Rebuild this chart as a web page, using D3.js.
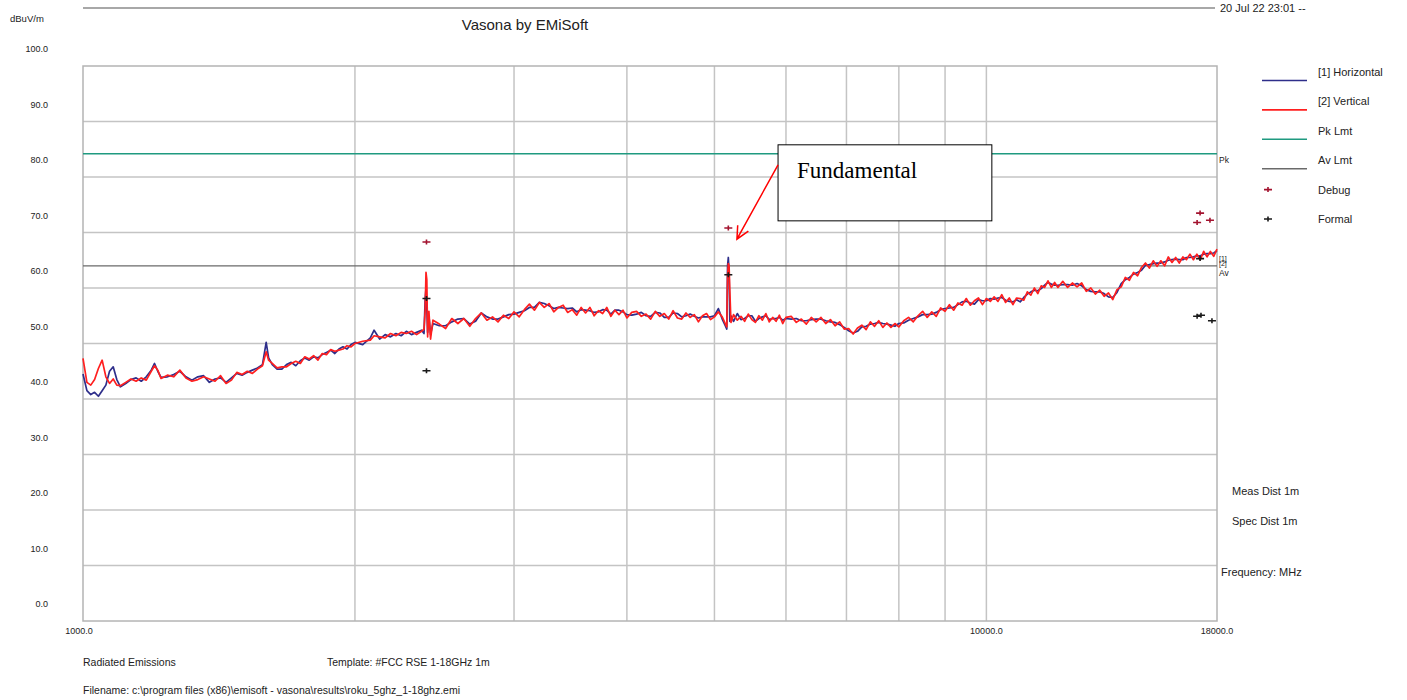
<!DOCTYPE html>
<html>
<head>
<meta charset="utf-8">
<script src="https://cdnjs.cloudflare.com/ajax/libs/d3/7.8.5/d3.min.js"></script>
<style>
  body { margin: 0; background: #fff; }
  svg text { font-family: "Liberation Sans", Arial, sans-serif; fill: #222; }
</style>
</head>
<body>
<div id="chart"></div>
<script>
// frequencies (MHz) shared by both traces
const freqs = [
  1000, 1010, 1020, 1030, 1040, 1050, 1060, 1070, 1080, 1090,
  1100, 1115, 1130, 1145, 1160, 1175, 1190, 1200, 1210, 1220,
  1240, 1260, 1280, 1300, 1320, 1340, 1360, 1380, 1400, 1420,
  1440, 1460, 1480, 1500, 1520, 1540, 1560, 1580, 1595, 1605,
  1620, 1640, 1660, 1680, 1700, 1720, 1740, 1760, 1780, 1800,
  1820, 1840, 1860, 1880, 1900, 1920, 1940, 1960, 1980, 2000,
  2040, 2080, 2100, 2130, 2160, 2190, 2220, 2250, 2280, 2310,
  2340, 2370, 2385, 2392, 2397, 2402, 2407, 2415, 2425, 2440,
  2480, 2520, 2560, 2600, 2640, 2680, 2720, 2760, 2800, 2840,
  2880, 2920, 2960, 3000, 3040, 3080, 3120, 3160, 3200, 3240,
  3280, 3320, 3360, 3400, 3440, 3480, 3520, 3560, 3600, 3640,
  3680, 3720, 3760, 3800, 3840, 3880, 3920, 3960, 4000, 4050,
  4100, 4150, 4200, 4250, 4300, 4350, 4400, 4450, 4500, 4550,
  4600, 4650, 4700, 4750, 4800, 4850, 4900, 4950, 5000, 5050,
  5100, 5140, 5160, 5170, 5180, 5190, 5200, 5215, 5250, 5300,
  5350, 5400, 5450, 5500, 5550, 5600, 5650, 5700, 5750, 5800,
  5850, 5900, 5950, 6000, 6080, 6160, 6240, 6320, 6400, 6480,
  6560, 6640, 6720, 6800, 6880, 6960, 7040, 7120, 7200, 7280,
  7360, 7440, 7520, 7600, 7680, 7760, 7840, 7920, 8000, 8100,
  8200, 8300, 8400, 8500, 8600, 8700, 8800, 8900, 9000, 9100,
  9200, 9300, 9400, 9500, 9600, 9700, 9800, 9900, 10000, 10100,
  10200, 10300, 10400, 10500, 10600, 10700, 10800, 10900, 11000, 11100,
  11200, 11300, 11400, 11500, 11600, 11700, 11800, 11900, 12000, 12150,
  12300, 12450, 12600, 12750, 12900, 13050, 13200, 13350, 13500, 13650,
  13800, 13950, 14100, 14250, 14400, 14550, 14700, 14850, 15000, 15150,
  15300, 15450, 15600, 15750, 15900, 16050, 16200, 16350, 16500, 16650,
  16800, 16950, 17100, 17250, 17400, 17550, 17700, 17850, 18000,
];

// [1] Horizontal, dBuV/m
const horizontal = [
  44.5, 41.5, 40.8, 41.2, 40.5, 41.5, 42.5, 45.0, 45.8, 43.5,
  42.2, 42.8, 43.5, 43.8, 43.2, 44.0, 45.2, 46.4, 45.0, 43.9,
  44.0, 44.4, 45.0, 44.0, 43.4, 44.0, 44.2, 43.0, 43.6, 43.8,
  43.0, 43.8, 44.6, 44.3, 44.8, 45.2, 45.6, 46.2, 50.2, 47.4,
  46.2, 45.4, 45.4, 46.2, 46.6, 46.0, 46.9, 47.4, 47.0, 47.6,
  47.4, 48.0, 48.4, 48.8, 48.2, 49.0, 49.4, 49.0, 49.8, 50.2,
  49.8, 51.0, 52.4, 50.8, 51.6, 51.2, 51.8, 51.4, 52.2, 51.6,
  52.0, 52.4, 51.8, 58.0, 59.9, 56.5, 52.0, 55.0, 51.6, 53.6,
  53.2, 53.2, 53.9, 54.4, 54.5, 53.5, 54.0, 55.5, 54.8, 54.4,
  54.4, 54.8, 55.2, 55.3, 55.6, 55.9, 56.5, 56.5, 57.4, 57.2,
  56.8, 56.3, 56.5, 56.4, 56.3, 56.4, 55.7, 56.1, 56.0, 55.9,
  55.6, 55.7, 56.1, 56.0, 55.3, 56.0, 56.0, 55.7, 55.2, 55.1,
  55.3, 55.6, 55.0, 54.9, 55.6, 55.5, 54.7, 54.7, 55.5, 55.4,
  54.8, 55.0, 55.3, 54.9, 54.6, 54.8, 54.8, 54.8, 55.0, 56.3,
  54.4, 53.2, 52.6, 64.0, 65.5, 63.0, 54.0, 55.0, 54.0, 55.4,
  54.3, 54.5, 55.0, 55.0, 54.0, 54.5, 54.8, 55.0, 54.3, 54.5,
  54.5, 54.7, 54.2, 54.5, 54.4, 54.5, 54.1, 54.1, 54.3, 54.4,
  54.4, 54.1, 53.9, 53.8, 53.4, 52.9, 52.3, 51.9, 52.2, 53.0,
  53.1, 53.5, 53.6, 53.8, 53.6, 53.5, 53.3, 53.1, 53.6, 53.7,
  54.2, 54.5, 54.8, 55.2, 55.2, 55.3, 55.6, 56.1, 56.3, 56.4,
  56.5, 57.0, 57.5, 57.6, 57.3, 57.1, 57.9, 57.7, 57.7, 58.1,
  58.0, 58.2, 58.3, 57.8, 57.6, 57.5, 57.9, 57.5, 58.3, 58.9,
  59.3, 59.6, 59.5, 59.9, 60.5, 61.0, 60.7, 60.5, 60.5, 60.6,
  60.6, 60.5, 60.8, 60.4, 59.7, 59.4, 59.3, 59.3, 59.0, 58.4,
  58.3, 59.2, 60.8, 61.5, 61.9, 62.5, 62.8, 63.2, 64.1, 64.2,
  64.4, 64.5, 64.5, 64.7, 65.0, 65.1, 65.2, 65.1, 65.1, 65.5,
  65.5, 65.6, 65.8, 65.8, 66.1, 66.2, 66.2, 66.3, 66.7,
];

// [2] Vertical, dBuV/m
const vertical = [
  47.3, 43.0, 42.5, 43.5, 45.5, 47.0, 44.0, 42.8, 43.6, 42.5,
  42.4, 43.0, 43.6, 43.2, 43.8, 43.4, 45.0, 46.0, 45.2, 43.7,
  44.3, 44.0, 45.2, 43.8, 43.2, 43.5, 44.0, 43.6, 43.2, 44.2,
  42.8, 43.4, 44.8, 44.4, 45.0, 44.6, 45.4, 46.0, 48.5, 47.0,
  46.4, 45.6, 45.8, 45.8, 46.4, 46.8, 46.4, 47.6, 47.2, 47.8,
  47.0, 48.2, 48.0, 48.9, 48.6, 48.8, 49.0, 49.6, 49.4, 50.0,
  50.4, 50.6, 51.4, 51.2, 51.0, 51.8, 51.4, 52.0, 51.8, 52.2,
  51.6, 52.2, 52.6, 56.0, 62.8, 61.5, 51.2, 55.8, 50.8, 54.2,
  53.5, 52.7, 54.5, 53.6, 54.5, 53.1, 54.5, 55.5, 54.2, 54.8,
  53.9, 55.1, 54.5, 55.7, 54.8, 56.1, 57.1, 56.0, 57.4, 56.5,
  57.2, 55.7, 56.5, 56.9, 55.6, 56.1, 55.1, 56.5, 55.5, 56.5,
  55.0, 55.9, 55.4, 56.5, 54.9, 56.0, 55.2, 56.0, 54.6, 55.6,
  55.8, 54.9, 55.3, 54.4, 55.8, 54.9, 55.4, 54.4, 55.9, 54.6,
  54.4, 55.5, 54.7, 55.2, 53.9, 55.0, 55.4, 54.3, 54.8, 55.7,
  54.8, 53.6, 53.0, 62.0, 64.4, 64.0, 59.5, 53.8, 55.2, 54.2,
  54.9, 54.0, 55.3, 54.3, 53.8, 55.0, 54.2, 55.4, 53.9, 54.7,
  54.0, 55.1, 53.6, 54.7, 54.9, 53.8, 54.4, 53.5, 54.7, 53.9,
  54.7, 53.6, 54.3, 53.2, 53.9, 52.6, 52.7, 51.7, 52.8, 53.3,
  52.5, 53.9, 53.1, 54.1, 52.9, 53.7, 52.9, 53.6, 53.0, 54.1,
  54.7, 53.9, 55.0, 55.8, 54.7, 55.7, 54.9, 56.4, 55.8, 57.0,
  56.0, 57.3, 56.9, 58.1, 56.9, 57.7, 58.2, 57.0, 58.1, 57.6,
  58.4, 57.6, 58.8, 57.4, 58.2, 57.0, 58.2, 58.1, 57.8, 59.3,
  58.7, 60.0, 59.0, 60.4, 60.1, 61.3, 60.1, 61.0, 60.1, 61.2,
  60.1, 60.9, 60.2, 60.9, 59.4, 60.0, 58.9, 59.6, 58.5, 59.1,
  57.9, 59.7, 60.2, 61.9, 61.4, 62.8, 62.2, 63.7, 64.5, 63.6,
  64.9, 63.9, 64.9, 64.0, 65.6, 64.6, 65.5, 64.5, 65.6, 65.1,
  66.1, 65.1, 66.1, 65.1, 66.6, 65.6, 66.6, 65.7, 67.0,
];

const pkLimit = [[1000, 84.2], [18000, 84.2]];
const avLimit = [[1000, 64.0], [18000, 64.0]];

const debugPoints = [[2400, 68.3], [5180, 70.8], [17110, 71.8], [17240, 73.5], [17680, 72.2]];
const formalPoints = [[2400, 58.1], [2400, 45.1], [5180, 62.4], [17240, 65.3],
  [17110, 54.9], [17280, 55.1], [17770, 54.1]];

const yTicks = [0, 10, 20, 30, 40, 50, 60, 70, 80, 90, 100];
const xGrid = [2000, 3000, 4000, 5000, 6000, 7000, 8000, 9000, 10000];
const xLabels = [1000, 10000, 18000];

const legendItems = [
  { label: '[1] Horizontal', type: 'line', color: '#2e2e8a' },
  { label: '[2] Vertical', type: 'line', color: '#ff1f1f' },
  { label: 'Pk Lmt', type: 'line', color: '#1f9a80' },
  { label: 'Av Lmt', type: 'line', color: '#6a6a6a' },
  { label: 'Debug', type: 'mark', color: '#a3132f' },
  { label: 'Formal', type: 'mark', color: '#1a1a1a' },
];

const sideNotes = ['Meas Dist 1m', 'Spec Dist 1m', 'Frequency: MHz'];

const callout = {
  text: 'Fundamental',
  box: [5880, 10140, 85.8, 72.1], // f0, f1, dB top, dB bottom
  from: [5880, 82.2],
  to: [5295, 68.8],
};

class EmissionsPlot {
  constructor(containerId) {
    this.containerId = containerId;
    this.width = 1407;
    this.height = 700;
    this.plot = { left: 83, right: 1217, top: 66, bottom: 621 };
    this.init();
    this.update();
  }

  init() {
    const p = this.plot;
    this.svg = d3.select(`#${this.containerId}`)
      .append('svg')
      .attr('width', this.width)
      .attr('height', this.height);

    this.x = d3.scaleLog().domain([1000, 18000]).range([p.left, p.right]);
    this.y = d3.scaleLinear().domain([0, 100]).range([p.bottom, p.top]);

    this.line = d3.line()
      .x((d) => this.x(d[0]))
      .y((d) => this.y(d[1]));
  }

  update() {
    const { svg, x, y, plot: p } = this;
    const gridColor = '#c4c4c4';

    // header
    svg.append('line')
      .attr('x1', p.left).attr('x2', p.right - 2)
      .attr('y1', 8).attr('y2', 8)
      .attr('stroke', '#a8a8a8').attr('stroke-width', 2);
    svg.append('text').attr('x', p.right + 3).attr('y', 12)
      .style('font-size', '11px').text('20 Jul 22 23:01 --');
    svg.append('text').attr('x', 525).attr('y', 30)
      .attr('text-anchor', 'middle').style('font-size', '15px')
      .text('Vasona by EMiSoft');
    svg.append('text').attr('x', 10).attr('y', 22)
      .style('font-size', '9.5px').text('dBuV/m');

    // grid
    svg.append('g').selectAll('line')
      .data(yTicks.slice(1, -1))
      .join('line')
      .attr('x1', p.left).attr('x2', p.right)
      .attr('y1', (d) => y(d)).attr('y2', (d) => y(d))
      .attr('stroke', gridColor).attr('stroke-width', 1.5);
    svg.append('g').selectAll('line')
      .data(xGrid)
      .join('line')
      .attr('x1', (d) => x(d)).attr('x2', (d) => x(d))
      .attr('y1', p.top).attr('y2', p.bottom)
      .attr('stroke', gridColor).attr('stroke-width', 1.5);
    svg.append('rect')
      .attr('x', p.left).attr('y', p.top)
      .attr('width', p.right - p.left).attr('height', p.bottom - p.top)
      .attr('fill', 'none').attr('stroke', '#b4b4b4').attr('stroke-width', 1.5);

    // tick labels (the source prints them a little above the grid)
    svg.append('g').selectAll('text')
      .data(yTicks)
      .join('text')
      .attr('x', 48).attr('y', (d) => y(d) - 14)
      .attr('text-anchor', 'end')
      .style('font-size', '9px')
      .text((d) => d.toFixed(1));
    svg.append('g').selectAll('text')
      .data(xLabels)
      .join('text')
      .attr('x', (d, i) => x(d) - (i === 0 ? 4 : 0)).attr('y', p.bottom + 13)
      .attr('text-anchor', 'middle')
      .style('font-size', '9px')
      .text((d) => d.toFixed(1));

    // limits
    svg.append('path').datum(pkLimit)
      .attr('d', this.line).attr('fill', 'none')
      .attr('stroke', legendItems[2].color).attr('stroke-width', 1.6);
    svg.append('path').datum(avLimit)
      .attr('d', this.line).attr('fill', 'none')
      .attr('stroke', legendItems[3].color).attr('stroke-width', 1.2);

    // traces
    const n = Math.min(freqs.length, horizontal.length, vertical.length);
    const hData = freqs.slice(0, n).map((f, i) => [f, horizontal[i]]);
    const vData = freqs.slice(0, n).map((f, i) => [f, vertical[i]]);
    svg.append('path').datum(hData)
      .attr('d', this.line).attr('fill', 'none')
      .attr('stroke', legendItems[0].color).attr('stroke-width', 1.7)
      .attr('stroke-linejoin', 'round');
    svg.append('path').datum(vData)
      .attr('d', this.line).attr('fill', 'none')
      .attr('stroke', legendItems[1].color).attr('stroke-width', 1.7)
      .attr('stroke-linejoin', 'round');

    // markers
    const cross = 'M-4,0H4M0,-2.5V2.5';
    svg.append('g').selectAll('path')
      .data(debugPoints)
      .join('path')
      .attr('transform', (d) => `translate(${x(d[0])},${y(d[1])})`)
      .attr('d', cross).attr('stroke', legendItems[4].color).attr('stroke-width', 1.6);
    svg.append('g').selectAll('path')
      .data(formalPoints)
      .join('path')
      .attr('transform', (d) => `translate(${x(d[0])},${y(d[1])})`)
      .attr('d', cross).attr('stroke', legendItems[5].color).attr('stroke-width', 1.6);

    // right side labels
    svg.append('text').attr('x', p.right + 2).attr('y', y(pkLimit[1][1]) + 9)
      .style('font-size', '8.5px').text('Pk');
    svg.append('text').attr('x', p.right + 2).attr('y', y(avLimit[1][1]) - 5)
      .style('font-size', '7px').text('[1]');
    svg.append('text').attr('x', p.right + 2).attr('y', y(avLimit[1][1]))
      .style('font-size', '7px').text('[2]');
    svg.append('text').attr('x', p.right + 2).attr('y', y(avLimit[1][1]) + 10)
      .style('font-size', '8.5px').text('Av');

    // legend
    const lg = svg.append('g').selectAll('g')
      .data(legendItems)
      .join('g')
      .attr('transform', (d, i) => `translate(0,${72 + i * 29.4})`);
    lg.append('text').attr('x', 1318).attr('y', 4)
      .style('font-size', '11px').text((d) => d.label);
    lg.filter((d) => d.type === 'line').append('line')
      .attr('x1', 1262).attr('x2', 1307).attr('y1', 8.5).attr('y2', 8.5)
      .attr('stroke', (d) => d.color).attr('stroke-width', 1.6);
    lg.filter((d) => d.type === 'mark').append('path')
      .attr('transform', 'translate(1268,0)')
      .attr('d', cross).attr('stroke', (d) => d.color).attr('stroke-width', 1.6);

    svg.append('g').selectAll('text')
      .data(sideNotes)
      .join('text')
      .attr('x', (d, i) => (i < 2 ? 1232 : 1221))
      .attr('y', (d, i) => [495, 525, 576][i])
      .style('font-size', '11px')
      .text((d) => d);

    // footer
    svg.append('text').attr('x', p.left).attr('y', 666)
      .style('font-size', '10.5px').text('Radiated Emissions');
    svg.append('text').attr('x', 327).attr('y', 666)
      .style('font-size', '10.5px').text('Template: #FCC RSE 1-18GHz 1m');
    svg.append('text').attr('x', p.left).attr('y', 694)
      .style('font-size', '10.5px')
      .text('Filename: c:\\program files (x86)\\emisoft - vasona\\results\\roku_5ghz_1-18ghz.emi');

    // callout
    const [f0, f1, dTop, dBot] = callout.box;
    svg.append('rect')
      .attr('x', x(f0)).attr('y', y(dTop))
      .attr('width', x(f1) - x(f0)).attr('height', y(dBot) - y(dTop))
      .attr('fill', '#fff').attr('stroke', '#000').attr('stroke-width', 1);
    svg.append('text')
      .attr('x', x(f0) + 19).attr('y', y(dTop) + 33)
      .style('font-family', '"Liberation Serif", "Times New Roman", serif')
      .style('font-size', '23px').style('fill', '#000')
      .text(callout.text);

    const ax0 = x(callout.from[0]); const ay0 = y(callout.from[1]);
    const ax1 = x(callout.to[0]); const ay1 = y(callout.to[1]);
    const ang = Math.atan2(ay1 - ay0, ax1 - ax0);
    const head = 14;
    const spread = 0.45;
    svg.append('path')
      .attr('d', `M${ax0},${ay0}L${ax1},${ay1}`
        + `M${ax1 - head * Math.cos(ang - spread)},${ay1 - head * Math.sin(ang - spread)}`
        + `L${ax1},${ay1}`
        + `L${ax1 - head * Math.cos(ang + spread)},${ay1 - head * Math.sin(ang + spread)}`)
      .attr('fill', 'none').attr('stroke', '#ff0000').attr('stroke-width', 1.5);
  }
}

new EmissionsPlot('chart');
</script>
</body>
</html>
